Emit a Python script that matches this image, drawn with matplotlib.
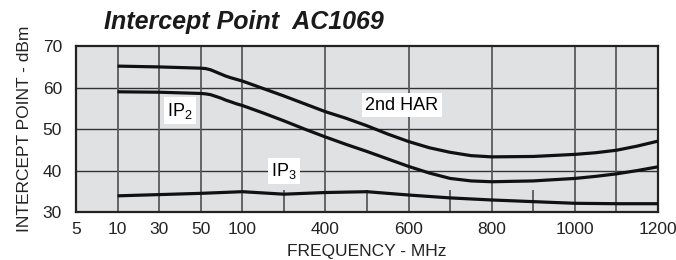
import numpy as np
from matplotlib import pyplot as plt

# Eje X no uniforme: cada frecuencia marcada ocupa una posicion igual
tick_freqs = [5, 10, 30, 50, 100, 250, 400, 500, 600, 700, 800, 900, 1000, 1100, 1200]
tick_pos = list(range(len(tick_freqs)))
label_freqs = [5, 10, 30, 50, 100, 400, 600, 800, 1000, 1200]
full_grid = [10, 30, 50, 100, 400, 600, 800, 1000, 1100]
half_grid = [250, 500, 700, 900]

# Curvas (MHz, dBm)
har_f = [10, 30, 50, 56, 62, 68, 74, 80, 86, 93, 100, 175, 250, 325, 400, 450,
         500, 550, 600, 650, 700, 750, 800, 900, 1000, 1050, 1100, 1150, 1200]
har_y = [65.2, 65.0, 64.7, 64.6, 64.3, 63.8, 63.3, 62.8, 62.4, 62.0, 61.6, 59.8,
         58.0, 56.1, 54.2, 52.6, 50.8, 48.8, 47.0, 45.5, 44.4, 43.6, 43.3, 43.4,
         43.9, 44.3, 44.9, 45.9, 47.1]

ip2_f = har_f
ip2_y = [59.0, 58.9, 58.6, 58.5, 58.3, 57.9, 57.5, 57.0, 56.6, 56.1, 55.7, 53.9,
         52.0, 50.0, 48.1, 46.3, 44.6, 42.8, 41.0, 39.4, 38.1, 37.5, 37.3, 37.5,
         38.1, 38.6, 39.2, 40.0, 40.9]

ip3_f = [10, 30, 50, 100, 175, 250, 325, 400, 500, 600, 700, 800, 900, 1000, 1100, 1200]
ip3_y = [33.9, 34.2, 34.5, 34.9, 34.6, 34.3, 34.5, 34.7, 34.9, 34.1, 33.4, 32.9,
         32.5, 32.1, 32.0, 32.0]

plt.rcParams['font.family'] = ['Liberation Sans', 'DejaVu Sans']
plt.rcParams['mathtext.fontset'] = 'custom'
plt.rcParams['mathtext.rm'] = 'Liberation Sans'


def fwd(f):
    return np.interp(f, tick_freqs, tick_pos)


def inv(p):
    return np.interp(p, tick_pos, tick_freqs)


fig = plt.figure(figsize=(6.76, 2.6), dpi=100)
ax = fig.add_axes([0.1124, 0.1846, 0.861, 0.6377])
ax.set_xscale('function', functions=(fwd, inv))
ax.set_xlim(5, 1200)
ax.set_ylim(30, 70)
ax.set_facecolor('#e0e1e3')

# Rejilla
for yv in [40, 50, 60]:
    ax.axhline(yv, color='#333333', lw=1.0, zorder=1)
ax.vlines(full_grid, 30, 70, color='#5a5a5a', lw=1.3, zorder=1)
ax.vlines(half_grid, 30, 35.2, color='#5a5a5a', lw=1.3, zorder=1)

# Curvas
for f, y in [(har_f, har_y), (ip2_f, ip2_y), (ip3_f, ip3_y)]:
    ax.plot(f, y, color='#111111', lw=2.3, solid_capstyle='butt',
            solid_joinstyle='round', zorder=3)

box = dict(facecolor='white', edgecolor='none', pad=2.5)
ax.text(40, 54.4, r'IP$_\mathregular{2}$', ha='center', va='center', fontsize=13,
        bbox=box, zorder=4)
ax.text(250, 39.9, r'IP$_\mathregular{3}$', ha='center', va='center', fontsize=13,
        bbox=box, zorder=4)
ax.text(584, 55.8, '2nd HAR', ha='center', va='center', fontsize=13,
        bbox=box, zorder=4)

ax.set_xticks(label_freqs)
ax.set_xticklabels([str(v) for v in label_freqs])
ax.set_yticks([30, 40, 50, 60, 70])
ax.tick_params(length=0, labelsize=12.5, colors='#222222', pad=7)
ax.tick_params(axis='y', pad=10)
for s in ax.spines.values():
    s.set_color('#222222')
    s.set_linewidth(1.6)

ax.set_xlabel('FREQUENCY - MHz', fontsize=12.5, color='#222222', labelpad=5)
ax.set_ylabel('INTERCEPT POINT - dBm', fontsize=12.5, color='#222222', labelpad=8)

fig.text(0.361, 0.915, 'Intercept Point  AC1069', ha='center', va='center',
         fontsize=18, fontweight='bold', fontstyle='italic', color='#1a1a1a')

fig.savefig('out.png', dpi=100)
